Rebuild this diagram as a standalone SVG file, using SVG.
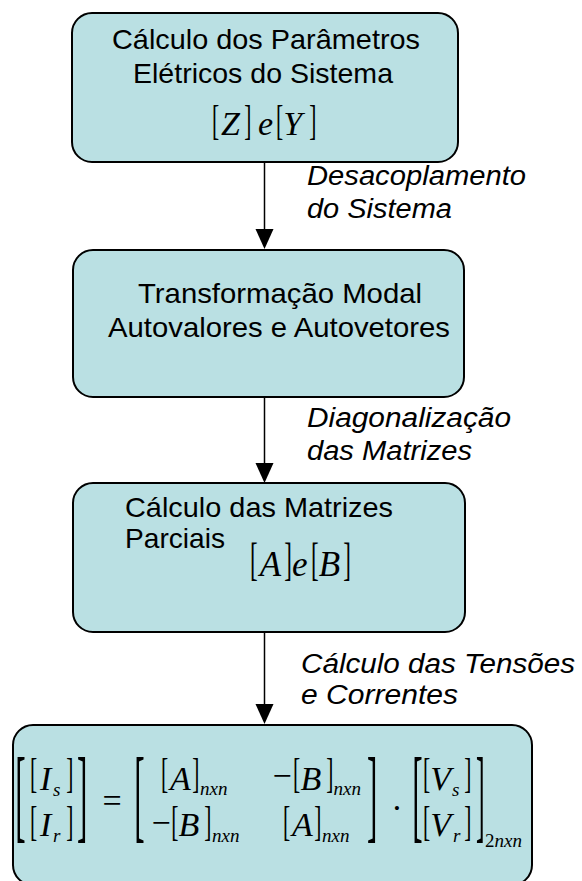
<svg xmlns="http://www.w3.org/2000/svg" width="582" height="881" viewBox="0 0 582 881">
<style>
.box{fill:#BAE0E3;stroke:#000;stroke-width:2}
.t{font-family:"Liberation Sans",Arial,sans-serif;font-size:28px;fill:#000}
.lbl{font-family:"Liberation Sans",Arial,sans-serif;font-size:27px;font-style:italic;fill:#000}
.mi{font-family:"Liberation Serif","Times New Roman",serif;font-size:34px;font-style:italic;fill:#000}
.mi2{font-family:"Liberation Serif","Times New Roman",serif;font-size:35px;font-style:italic;fill:#000}
.mn{font-family:"Liberation Serif","Times New Roman",serif;font-size:34px;fill:#000}
.sub{font-family:"Liberation Serif","Times New Roman",serif;font-size:19px;font-style:italic;fill:#000}
.subn{font-family:"Liberation Serif","Times New Roman",serif;font-size:19px;fill:#000}
.br{font-family:"Liberation Serif","Times New Roman",serif;font-size:43px;fill:#000}
.br2{font-family:"Liberation Serif","Times New Roman",serif;font-size:46px;fill:#000}
.bbr{font-family:"Liberation Serif","Times New Roman",serif;font-size:104px;fill:#000}
.conn line{stroke:#000;stroke-width:1.5}
.conn polygon{fill:#000}
</style>

<g id="connectors" class="conn">
  <line x1="264.5" y1="162" x2="264.5" y2="231"/>
  <polygon points="255.5,229 273.5,229 264.5,249"/>
  <line x1="264.5" y1="397" x2="264.5" y2="465"/>
  <polygon points="255.5,463 273.5,463 264.5,483"/>
  <line x1="264.5" y1="632" x2="264.5" y2="706"/>
  <polygon points="255.5,704 273.5,704 264.5,724"/>
</g>

<g id="labels">
  <text class="lbl" x="307" y="185" textLength="219" lengthAdjust="spacingAndGlyphs">Desacoplamento</text>
  <text class="lbl" x="307" y="218" textLength="145" lengthAdjust="spacingAndGlyphs">do Sistema</text>
  <text class="lbl" x="307" y="427" textLength="204" lengthAdjust="spacingAndGlyphs">Diagonalização</text>
  <text class="lbl" x="307" y="460" textLength="165" lengthAdjust="spacingAndGlyphs">das Matrizes</text>
  <text class="lbl" x="301" y="673" textLength="274" lengthAdjust="spacingAndGlyphs">Cálculo das Tensões</text>
  <text class="lbl" x="301" y="704" textLength="157" lengthAdjust="spacingAndGlyphs">e Correntes</text>
</g>

<g id="node1">
  <rect class="box" x="72" y="13" width="386" height="149" rx="20" ry="20"/>
  <text class="t" x="112" y="49" textLength="308" lengthAdjust="spacingAndGlyphs">Cálculo dos Parâmetros</text>
  <text class="t" x="133" y="83" textLength="260" lengthAdjust="spacingAndGlyphs">Elétricos do Sistema</text>
  <text class="br" transform="translate(212.1,133.5) scale(0.5,1)">[</text>
  <text class="mi" x="221" y="135">Z</text>
  <text class="br" transform="translate(244.3,133.5) scale(0.5,1)">]</text>
  <text class="mi" x="258" y="135">e</text>
  <text class="br" transform="translate(276.1,133.5) scale(0.5,1)">[</text>
  <text class="mi" x="283.3" y="135">Y</text>
  <text class="br" transform="translate(309.3,133.5) scale(0.5,1)">]</text>
</g>

<g id="node2">
  <rect class="box" x="73" y="250" width="391" height="147" rx="20" ry="20"/>
  <text class="t" x="138" y="303" textLength="284" lengthAdjust="spacingAndGlyphs">Transformação Modal</text>
  <text class="t" x="108" y="337" textLength="342" lengthAdjust="spacingAndGlyphs">Autovalores e Autovetores</text>
</g>

<g id="node3">
  <rect class="box" x="73" y="483" width="392" height="149" rx="20" ry="20"/>
  <text class="t" x="125" y="517" textLength="268" lengthAdjust="spacingAndGlyphs">Cálculo das Matrizes</text>
  <text class="t" x="125" y="548" textLength="100" lengthAdjust="spacingAndGlyphs">Parciais</text>
  <text class="br2" transform="translate(250,574.8) scale(0.5,1)">[</text>
  <text class="mi2" x="259.8" y="576">A</text>
  <text class="br2" transform="translate(284.2,574.8) scale(0.5,1)">]</text>
  <text class="mi2" x="292" y="576">e</text>
  <text class="br2" transform="translate(311,574.8) scale(0.5,1)">[</text>
  <text class="mi2" x="318.7" y="576">B</text>
  <text class="br2" transform="translate(343.2,574.8) scale(0.5,1)">]</text>
</g>

<g id="node4">
  <rect class="box" x="13" y="725" width="519" height="160" rx="20" ry="20"/>
  <!-- left vector -->
  <text class="bbr" transform="translate(15.3,829) scale(0.3,1)">[</text>
  <text class="br" transform="translate(30.1,786.5) scale(0.5,1)">[</text>
  <text class="mi" x="40" y="790">I</text>
  <text class="sub" x="53" y="796">s</text>
  <text class="br" transform="translate(66.3,786.5) scale(0.5,1)">]</text>
  <text class="br" transform="translate(30.1,835.3) scale(0.5,1)">[</text>
  <text class="mi" x="40" y="836">I</text>
  <text class="sub" x="53" y="842">r</text>
  <text class="br" transform="translate(66.3,835.3) scale(0.5,1)">]</text>
  <text class="bbr" transform="translate(77,829) scale(0.3,1)">]</text>
  <!-- equals -->
  <text class="mn" x="102.5" y="812">=</text>
  <!-- matrix -->
  <text class="bbr" transform="translate(134.3,829) scale(0.3,1)">[</text>
  <text class="br" transform="translate(161.1,786.5) scale(0.5,1)">[</text>
  <text class="mi" x="170" y="790">A</text>
  <text class="br" transform="translate(192.3,786.5) scale(0.5,1)">]</text>
  <text class="sub" x="200" y="795">nxn</text>
  <text class="mn" x="272.5" y="787">−</text>
  <text class="br" transform="translate(293.1,786.5) scale(0.5,1)">[</text>
  <text class="mi" x="300.5" y="790">B</text>
  <text class="br" transform="translate(326.3,786.5) scale(0.5,1)">]</text>
  <text class="sub" x="333.5" y="795">nxn</text>
  <text class="mn" x="151.5" y="834">−</text>
  <text class="br" transform="translate(171.3,835.3) scale(0.5,1)">[</text>
  <text class="mi" x="178.5" y="836">B</text>
  <text class="br" transform="translate(204.3,835.3) scale(0.5,1)">]</text>
  <text class="sub" x="212" y="842">nxn</text>
  <text class="br" transform="translate(283.1,835.3) scale(0.5,1)">[</text>
  <text class="mi" x="292" y="836">A</text>
  <text class="br" transform="translate(314.3,835.3) scale(0.5,1)">]</text>
  <text class="sub" x="322" y="842">nxn</text>
  <text class="bbr" transform="translate(367,829) scale(0.3,1)">]</text>
  <!-- dot -->
  <text class="mn" x="397" y="819" text-anchor="middle">·</text>
  <!-- right vector -->
  <text class="bbr" transform="translate(412.3,829) scale(0.3,1)">[</text>
  <text class="br" transform="translate(423.1,786.5) scale(0.5,1)">[</text>
  <text class="mi" x="430.3" y="790">V</text>
  <text class="sub" x="452" y="796">s</text>
  <text class="br" transform="translate(464.3,786.5) scale(0.5,1)">]</text>
  <text class="br" transform="translate(423.1,835.3) scale(0.5,1)">[</text>
  <text class="mi" x="430.3" y="836">V</text>
  <text class="sub" x="453" y="842">r</text>
  <text class="br" transform="translate(464.3,835.3) scale(0.5,1)">]</text>
  <text class="bbr" transform="translate(476,829) scale(0.25,1)">]</text>
  <text x="485" y="847"><tspan class="subn">2</tspan><tspan class="sub">nxn</tspan></text>
</g>
</svg>
